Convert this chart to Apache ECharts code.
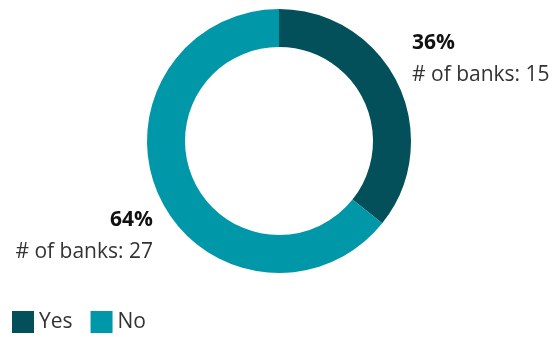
<!DOCTYPE html>
<html>
<head>
<meta charset="utf-8">
<script src="https://cdn.jsdelivr.net/npm/echarts@6/dist/echarts.min.js"></script>
<style>
  html, body { margin: 0; padding: 0; background: #fff; }
  #chart { width: 554px; height: 337px; }
</style>
</head>
<body>
<div id="chart"></div>
<script>
// answers and bank counts
const categories = ['Yes', 'No'];
const banks = [15, 27];
const shares = [36, 64];
const colors = ['#03505b', '#0097a8'];

// where each label sits (next to its slice)
const labelSpots = [
  { x: 412, y: 27, align: 'left' },
  { x: 153, y: 204, align: 'right' }
];

const chart = echarts.init(document.getElementById('chart'));

chart.setOption({
  animation: false,
  textStyle: { fontFamily: '"Open Sans", sans-serif' },
  legend: {
    left: 7,
    top: 306,
    itemWidth: 22,
    itemHeight: 22,
    itemGap: 18,
    icon: 'rect',
    textStyle: { fontSize: 21, color: '#333', padding: [2, 0, 0, 0] },
    data: categories
  },
  series: [{
    type: 'pie',
    center: [279, 141],
    radius: [94, 132],
    startAngle: 90,
    clockwise: true,
    silent: true,
    label: {
      show: true,
      position: 'outside',
      overflow: 'none',
      formatter: (p) => '{pct|' + shares[p.dataIndex] + '%}\n{n|# of banks: ' + banks[p.dataIndex] + '}',
      rich: {
        pct: { fontSize: 21, fontWeight: 'bold', color: '#111', lineHeight: 32 },
        n: { fontSize: 21, color: '#333', lineHeight: 32 }
      }
    },
    labelLine: { show: false },
    labelLayout: (params) => {
      const s = labelSpots[params.dataIndex];
      return { x: s.x, y: s.y, align: s.align, verticalAlign: 'top', width: 220 };
    },
    data: categories.map((c, i) => ({
      name: c,
      value: banks[i],
      itemStyle: { color: colors[i] }
    }))
  }]
});
</script>
</body>
</html>
